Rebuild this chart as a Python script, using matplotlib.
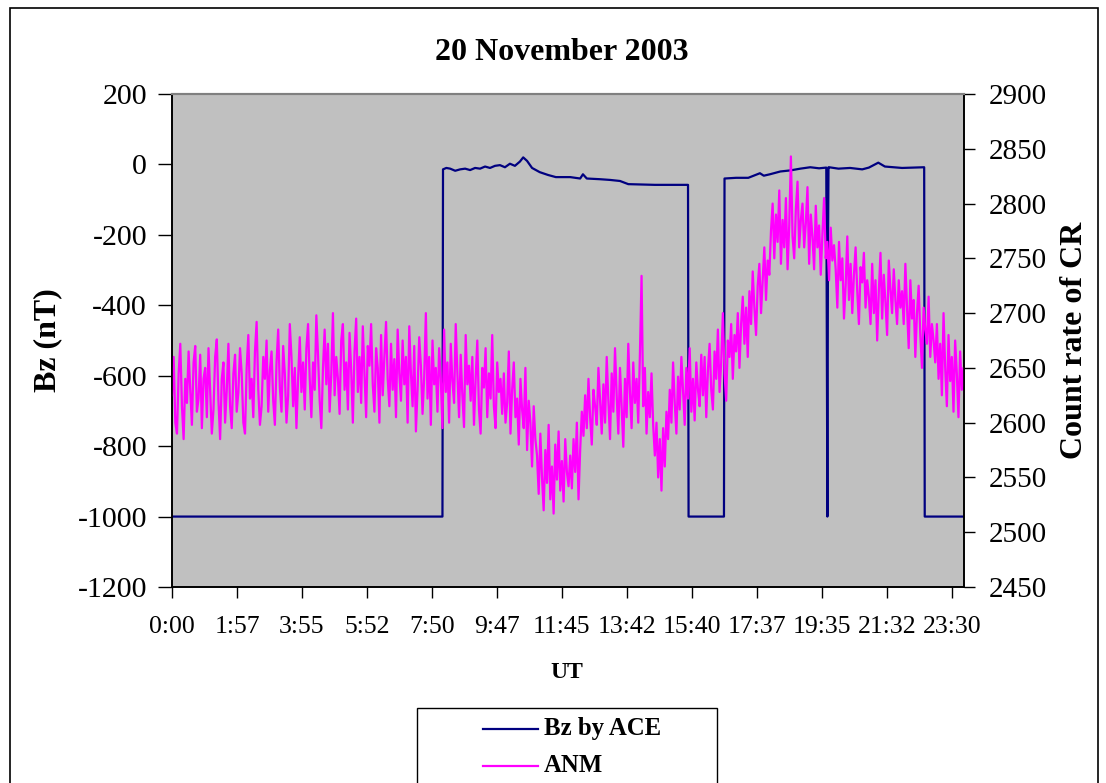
import numpy as np
import matplotlib
matplotlib.use("Agg")
import matplotlib.pyplot as plt
from matplotlib.lines import Line2D
from matplotlib.patches import Rectangle
from matplotlib.ticker import FixedLocator, FuncFormatter

plt.rcParams['font.family'] = ['Liberation Serif', 'DejaVu Serif']
plt.rcParams['axes.unicode_minus'] = False

# Bz by ACE (nT): breakpoints, time in minutes of the day (UT)
bz_time = [0, 489, 490, 496, 503, 512, 521, 530, 539, 548, 557, 566, 575, 584, 593, 602,
           611, 620, 629, 635, 642, 651, 665, 680, 694, 720, 738, 743, 750, 774, 792,
           810, 825, 873, 933, 934, 998, 999, 1020, 1042, 1063, 1070, 1081, 1100, 1118,
           1136, 1154, 1170, 1183, 1185, 1186, 1187, 1188, 1205, 1226, 1248, 1260, 1277,
           1289, 1320, 1360, 1361, 1432]
bz_value = [-1000, -1000, -14, -10, -12, -18, -14, -12, -16, -10, -12, -6, -10, -4, -2, -8,
            2, -4, 8, 20, 10, -10, -22, -30, -36, -36, -40, -28, -40, -42, -44,
            -47, -56, -58, -58, -1000, -1000, -40, -38, -38, -25, -32, -28, -20, -17,
            -12, -8, -11, -9, -1000, -260, -8, -8, -12, -10, -14, -9, 5,
            -6, -10, -8, -1000, -1000]

# ANM count rate, 3-minute values from 0:00 (one row per hour)
anm_step = 3
anm_count = [
    2625, 2660, 2600, 2590, 2645, 2672, 2615, 2585, 2640, 2618, 2665, 2630, 2598, 2655, 2670, 2610, 2622, 2662, 2595, 2640,
    2650, 2605, 2668, 2628, 2590, 2612, 2660, 2676, 2620, 2585, 2640, 2655, 2600, 2630, 2672, 2615, 2595, 2645, 2662, 2610,
    2628, 2668, 2645, 2600, 2590, 2650, 2680, 2622, 2640, 2605, 2665, 2692, 2630, 2598, 2615, 2660, 2640, 2675, 2610, 2648,
    2665, 2620, 2598, 2655, 2685, 2632, 2610, 2670, 2645, 2600, 2625, 2690, 2660, 2615, 2650, 2595, 2640, 2678, 2628, 2655,
    2612, 2668, 2690, 2640, 2605, 2655, 2630, 2698, 2662, 2620, 2595, 2650, 2685, 2635, 2672, 2610, 2645, 2700, 2625, 2660,
    2640, 2608, 2675, 2690, 2630, 2655, 2612, 2682, 2648, 2600, 2665, 2695, 2628, 2660, 2618, 2688, 2645, 2605, 2670, 2652,
    2690, 2635, 2610, 2668, 2650, 2600, 2680, 2625, 2660, 2692, 2640, 2615, 2672, 2630, 2658, 2605, 2685, 2645, 2620, 2675,
    2635, 2660, 2600, 2688, 2645, 2615, 2670, 2592, 2630, 2678, 2652, 2608, 2642, 2700, 2622, 2660, 2598, 2675, 2635, 2650,
    2610, 2668, 2640, 2595, 2685, 2628, 2655, 2600, 2672, 2638, 2618, 2690, 2645, 2605, 2662, 2625, 2596, 2680, 2635, 2652,
    2620, 2660, 2598, 2640, 2675, 2612, 2590, 2650, 2632, 2668, 2605, 2645, 2622, 2680, 2615, 2595, 2655, 2628, 2640, 2608,
    2645, 2600, 2618, 2665, 2590, 2630, 2655, 2605, 2622, 2580, 2640, 2612, 2595, 2650, 2575, 2620, 2600, 2560, 2615, 2585,
    2570, 2535, 2590, 2550, 2520, 2575, 2545, 2598, 2530, 2560, 2517, 2580, 2548, 2592, 2538, 2565, 2528, 2585, 2555, 2542,
    2570, 2540, 2585, 2555, 2600, 2530, 2575, 2610, 2588, 2625, 2595, 2640, 2605, 2580, 2630, 2615, 2598, 2650, 2620, 2590,
    2635, 2600, 2660, 2620, 2585, 2645, 2610, 2668, 2625, 2590, 2650, 2615, 2578, 2640, 2605, 2672, 2628, 2595, 2655, 2618,
    2640, 2600, 2662, 2734, 2615, 2650, 2590, 2628, 2605, 2645, 2598, 2570, 2600, 2550, 2585, 2538, 2595, 2560, 2610, 2585,
    2630, 2600, 2655, 2618, 2590, 2642, 2612, 2660, 2628, 2598, 2650, 2622, 2668, 2610, 2640, 2602, 2655, 2630, 2615, 2662,
    2625, 2660, 2605, 2648, 2672, 2630, 2612, 2665, 2640, 2685, 2628, 2655, 2700, 2645, 2620, 2675, 2660, 2690, 2640, 2680,
    2665, 2700, 2650, 2690, 2715, 2672, 2705, 2660, 2720, 2690, 2738, 2705, 2680, 2725, 2745, 2700, 2730, 2760, 2712, 2748,
    2735, 2775, 2800, 2750, 2790, 2765, 2812, 2745, 2785, 2760, 2805, 2740, 2780, 2843, 2770, 2750, 2795, 2820, 2760, 2785,
    2800, 2760, 2782, 2815, 2745, 2790, 2770, 2740, 2798, 2760, 2780, 2735, 2772, 2805, 2750, 2765, 2730, 2778, 2748, 2762,
    2740, 2705, 2765, 2730, 2750, 2695, 2725, 2770, 2712, 2745, 2700, 2735, 2760, 2720, 2690, 2742, 2728, 2755, 2705, 2730,
    2715, 2690, 2745, 2700, 2730, 2675, 2720, 2755, 2695, 2735, 2710, 2680, 2748, 2722, 2700, 2740, 2712, 2690, 2730, 2705,
    2720, 2690, 2745, 2705, 2668, 2730, 2695, 2712, 2660, 2700, 2725, 2680, 2650, 2705, 2685, 2672, 2715, 2660, 2690, 2675,
    2655, 2690, 2640, 2672, 2625, 2700, 2650, 2615, 2680, 2638, 2660, 2610, 2675, 2645, 2605, 2665, 2630, 2650, 2620, 2655,
]
anm_time = np.arange(len(anm_count)) * anm_step

x_ticks = [0, 117.5, 235, 352.5, 470, 587.5, 705, 822.5, 940, 1057.5, 1175, 1292.5, 1410]
bz_ticks = list(range(-1200, 201, 200))
cr_ticks = list(range(2450, 2901, 50))

W, H = 1106, 783
fig = plt.figure(figsize=(W / 100, H / 100), dpi=100)
ax = fig.add_axes([172 / W, 1 - 587 / H, (964 - 172) / W, (587 - 94) / H])
ax.set_facecolor('#C0C0C0')

l_bz, = ax.plot(bz_time, bz_value, color='#000080', lw=1.6)
ax.set_xlim(0, 1432)
ax.set_ylim(-1200, 200)
ax.set_yticks(bz_ticks)
ax.xaxis.set_major_locator(FixedLocator(x_ticks))
ax.xaxis.set_major_formatter(FuncFormatter(lambda v, p: '%d:%02d' % (int(v) // 60, int(v) % 60)))

ax2 = ax.twinx()
l_anm, = ax2.plot(anm_time, anm_count, color='#FF00FF', lw=1.6)
ax2.set_ylim(2450, 2900)
ax2.set_yticks(cr_ticks)

for a in (ax, ax2):
    for s in ('left', 'right', 'bottom'):
        a.spines[s].set_color('black')
        a.spines[s].set_linewidth(1.2)
    a.spines['top'].set_color('#808080')
    a.spines['top'].set_linewidth(1.5)
ax.tick_params(axis='y', direction='out', length=10, width=1, labelsize=21.5, pad=8)
ax.tick_params(axis='x', direction='out', length=8, width=1, labelsize=18.5, pad=13)
ax2.tick_params(axis='y', direction='out', length=8, width=1, labelsize=21, pad=10)

fig.text(562 / W, 1 - 53 / H, '20 November 2003', ha='center', va='center',
         fontsize=23, fontweight='bold')
fig.text(48 / W, 1 - 340 / H, 'Bz (nT)', ha='center', va='center', rotation=90,
         fontsize=23, fontweight='bold')
fig.text(1075 / W, 1 - 340 / H, 'Count rate of CR', ha='center', va='center', rotation=90,
         fontsize=23, fontweight='bold')
fig.text(567 / W, 1 - 672 / H, 'UT', ha='center', va='center', fontsize=17, fontweight='bold')

# outer chart frame and legend box
fig.add_artist(Rectangle((10 / W, -0.1), (1098 - 10) / W, 1 - 8 / H + 0.1,
                         transform=fig.transFigure, fill=False, edgecolor='black', lw=1.2))
fig.add_artist(Rectangle((417 / W, -0.1), 300 / W, 1 - 708 / H + 0.1,
                         transform=fig.transFigure, fill=False, edgecolor='black', lw=1))
for line, label, yy in ((l_bz, 'Bz by ACE', 729), (l_anm, 'ANM', 766)):
    fig.add_artist(Line2D([483 / W, 538 / W], [1 - yy / H, 1 - yy / H], transform=fig.transFigure,
                          color=line.get_color(), lw=1.6))
    fig.text(544 / W, 1 - yy / H, label, ha='left', va='center', fontsize=17.8, fontweight='bold')

fig.savefig('out.png', dpi=100)
